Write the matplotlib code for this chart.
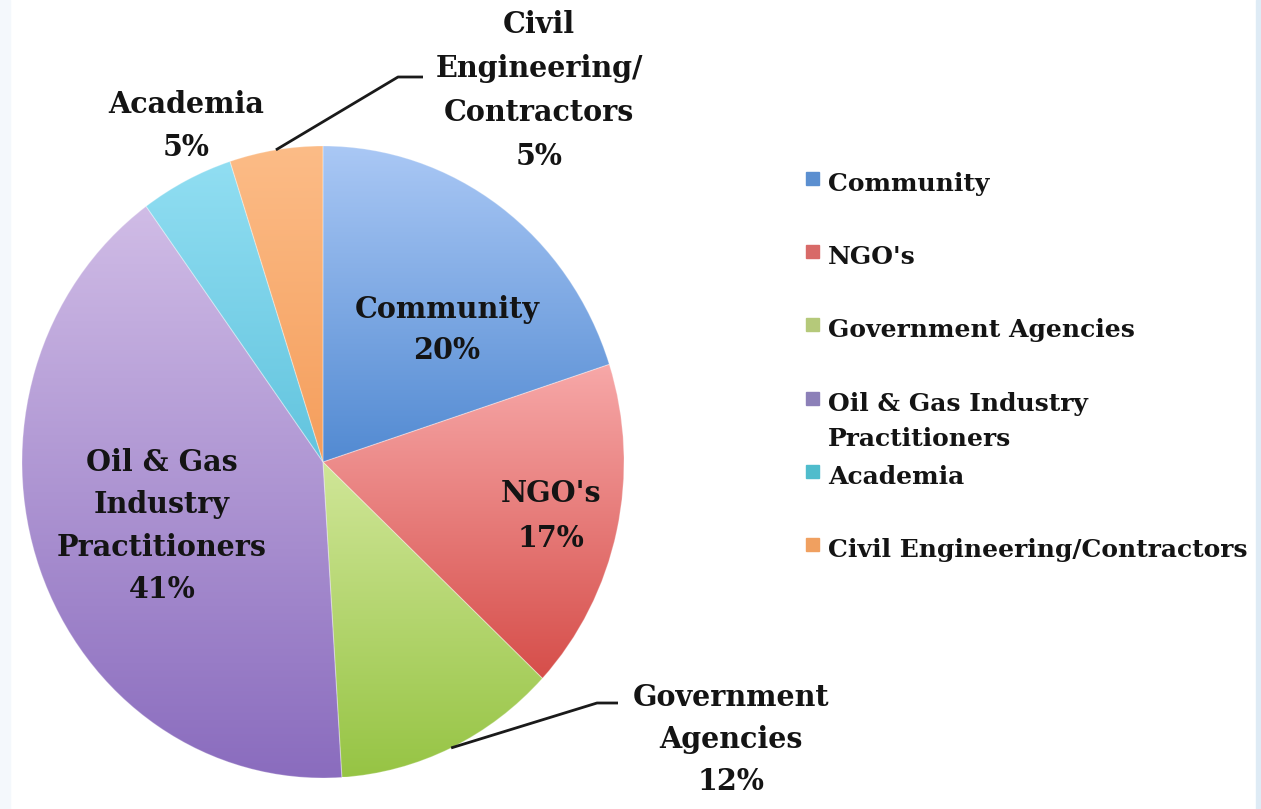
import numpy as np
import matplotlib
matplotlib.use("Agg")
import matplotlib.pyplot as plt
from matplotlib.patches import Rectangle

# ---- data ----
categories = ["Community", "NGO's", "Government Agencies",
              "Oil & Gas Industry Practitioners", "Academia",
              "Civil Engineering/Contractors"]
values = [20, 17, 12, 41, 5, 5]
slice_labels = ["Community", "NGO's", "Government\nAgencies",
                "Oil & Gas\nIndustry\nPractitioners", "Academia",
                "Civil\nEngineering/\nContractors"]
legend_labels = ["Community", "NGO's", "Government Agencies",
                 "Oil & Gas Industry\nPractitioners", "Academia",
                 "Civil Engineering/Contractors"]

# ---- style ----
top_colors = [(170, 200, 245), (247, 168, 168), (208, 230, 152),
              (208, 188, 230), (145, 222, 242), (252, 188, 135)]
bot_colors = [(82, 138, 210), (214, 78, 74), (150, 196, 68),
              (138, 108, 190), (98, 196, 222), (245, 158, 92)]
legend_colors = ["#5b8fd0", "#d86a68", "#b5c97a", "#8c80b8", "#4fbccc", "#f0a060"]
# label positions (pixel coords, centre of block) and line spacing
label_pos = [(447, 330), (551, 516), (731, 739), (162, 526), (186, 126), (539, 90)]
label_gap = [41, 45, 42, 42.3, 43, 44]
FONT = "DejaVu Serif"
FS_LABEL = 20.6
FS_LEG = 18
TXT = "#141414"

W, H = 1261, 809
fig = plt.figure(figsize=(W / 100, H / 100), dpi=100)
fig.patch.set_facecolor("white")

# side strips
fig.patches.append(Rectangle((0, 0), 10 / W, 1, transform=fig.transFigure,
                             color="#f4f8fc", zorder=0))
fig.patches.append(Rectangle((1 - 5 / W, 0), 5 / W, 1, transform=fig.transFigure,
                             color="#deebf5", zorder=0))

# pie axes (slightly elliptical like the reference)
cx, cy, rx, ry = 323, 462, 301, 316
axp = fig.add_axes([(cx - rx) / W, (H - cy - ry) / H, 2 * rx / W, 2 * ry / H])
wedges, _ = axp.pie(values, startangle=90, counterclock=False,
                    wedgeprops=dict(linewidth=0.8, edgecolor=(1, 1, 1, 0.25)))
axp.set_aspect("auto")
axp.set_xlim(-1, 1)
axp.set_ylim(-1, 1)
axp.axis("off")

for w, tc, bc in zip(wedges, top_colors, bot_colors):
    ext = w.get_path().get_extents()
    n = 256
    t = np.linspace(0, 1, n)[:, None]
    tcv = np.array(tc) / 255.0
    bcv = np.array(bc) / 255.0
    grad = tcv[None, :] * (1 - t) + bcv[None, :] * t
    img = np.repeat(grad[:, None, :], 2, axis=1)
    im = axp.imshow(img, extent=(ext.x0, ext.x1, ext.y0, ext.y1),
                    origin="upper", aspect="auto", zorder=w.get_zorder() + 0.1,
                    interpolation="bilinear")
    im.set_clip_path(w)
    w.set_facecolor("none")
    w.set_zorder(w.get_zorder() + 0.2)
axp.set_xlim(-1, 1)
axp.set_ylim(-1, 1)

# overlay axes in pixel coords
ax = fig.add_axes([0, 0, 1, 1], zorder=5)
ax.set_xlim(0, W)
ax.set_ylim(H, 0)
ax.axis("off")
ax.patch.set_alpha(0)


def block(x, yc, lines, gap, **kw):
    n = len(lines)
    y0 = yc - gap * (n - 1) / 2
    for k, ln in enumerate(lines):
        ax.text(x, y0 + k * gap, ln, ha="center", va="center",
                fontfamily=FONT, fontweight="bold", fontsize=FS_LABEL,
                color=TXT, **kw)


for lab, v, (x, y), g in zip(slice_labels, values, label_pos, label_gap):
    lines = lab.split("\n") + [f"{v}%"]
    block(x, y, lines, g)

# leader lines for the two outside labels
angles = []
acc = 0
for v in values:
    mid = 90 - (acc + v / 2) * 3.6
    angles.append(np.deg2rad(mid))
    acc += v


def to_px(a):
    disp = axp.transData.transform((np.cos(a), np.sin(a)))
    return ax.transData.inverted().transform(disp)


leaders = {2: [(597, 703), (618, 703)], 5: [(398, 77), (423, 77)]}
for i, pts in leaders.items():
    sx, sy = to_px(angles[i])
    xs = [sx] + [p[0] for p in pts]
    ys = [sy] + [p[1] for p in pts]
    ax.plot(xs, ys, color="#1a1a1a", lw=2.0, solid_capstyle="butt")

# legend
lx, ly0, lstep = 806, 184, 73.2
for i, (lab, c) in enumerate(zip(legend_labels, legend_colors)):
    y = ly0 + i * lstep
    ax.add_patch(Rectangle((lx, y - 12), 13, 13, color=c))
    for k, ln in enumerate(lab.split("\n")):
        ax.text(lx + 22, y + k * 35, ln, ha="left", va="center",
                fontfamily=FONT, fontweight="bold", fontsize=FS_LEG, color=TXT)

fig.savefig("out.png", dpi=100, facecolor="white")
